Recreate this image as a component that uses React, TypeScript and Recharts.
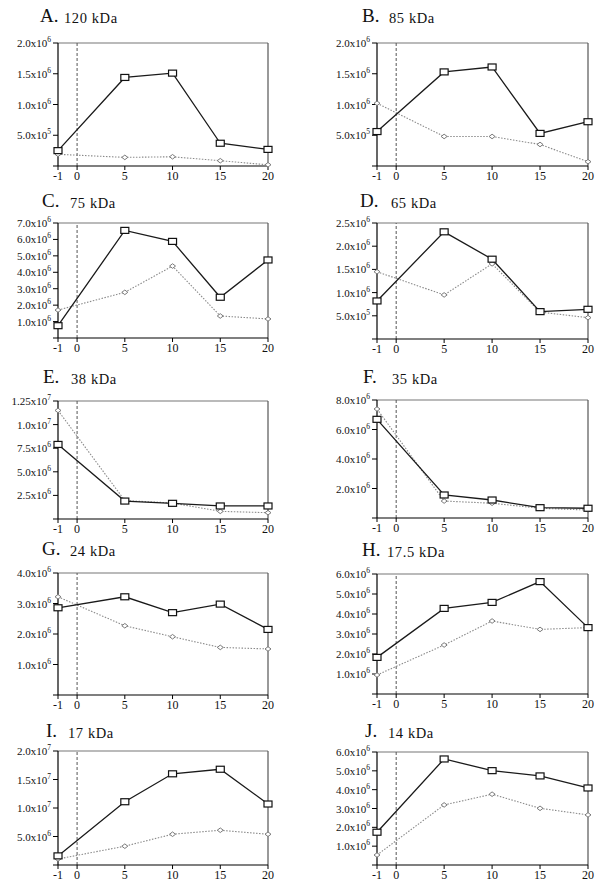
import React from 'react';
import { LineChart, Line, XAxis, YAxis, ReferenceLine } from 'recharts';

const SERIF = '"Liberation Serif", "Times New Roman", serif';

// sampling times (the -1 sample is drawn one gap left of 0, as in the source figure)
const sampleTimes = [-1, 5, 10, 15, 20];
const timeTicks = [-1, 0, 5, 10, 15, 20];
const toAxis = (t: number) => (t < 0 ? t * 2 : t);

// A. 120 kDa
const squaresA = [2.5e5, 1.44e6, 1.51e6, 3.7e5, 2.7e5];
const diamondsA = [1.9e5, 1.4e5, 1.5e5, 8.6e4, 2e4];
const yTicksA = [0, 5e5, 1e6, 1.5e6, 2e6];

// B. 85 kDa
const squaresB = [5.6e5, 1.53e6, 1.61e6, 5.3e5, 7.2e5];
const diamondsB = [1.02e6, 4.8e5, 4.8e5, 3.5e5, 7e4];
const yTicksB = [0, 5e5, 1e6, 1.5e6, 2e6];

// C. 75 kDa
const squaresC = [7.5e5, 6.55e6, 5.88e6, 2.48e6, 4.75e6];
const diamondsC = [1.7e6, 2.78e6, 4.38e6, 1.34e6, 1.16e6];
const yTicksC = [0, 1e6, 2e6, 3e6, 4e6, 5e6, 6e6, 7e6];

// D. 65 kDa
const squaresD = [8.2e5, 2.31e6, 1.72e6, 5.9e5, 6.4e5];
const diamondsD = [1.45e6, 9.5e5, 1.62e6, 5.8e5, 4.6e5];
const yTicksD = [0, 5e5, 1e6, 1.5e6, 2e6, 2.5e6];

// E. 38 kDa
const squaresE = [7.9e6, 1.9e6, 1.66e6, 1.38e6, 1.38e6];
const diamondsE = [1.15e7, 1.95e6, 1.7e6, 8.1e5, 6.7e5];
const yTicksE = [0, 2.5e6, 5e6, 7.5e6, 1e7, 1.25e7];

// F. 35 kDa
const squaresF = [6.69e6, 1.56e6, 1.22e6, 7e5, 6.6e5];
const diamondsF = [7.39e6, 1.15e6, 1e6, 6.6e5, 5.4e5];
const yTicksF = [0, 2e6, 4e6, 6e6, 8e6];

// G. 24 kDa
const squaresG = [2.86e6, 3.22e6, 2.7e6, 2.98e6, 2.15e6];
const diamondsG = [3.22e6, 2.27e6, 1.91e6, 1.56e6, 1.51e6];
const yTicksG = [0, 1e6, 2e6, 3e6, 4e6];

// H. 17.5 kDa
const squaresH = [1.83e6, 4.28e6, 4.58e6, 5.62e6, 3.32e6];
const diamondsH = [9.5e5, 2.45e6, 3.65e6, 3.23e6, 3.32e6];
const yTicksH = [0, 1e6, 2e6, 3e6, 4e6, 5e6, 6e6];

// I. 17 kDa
const squaresI = [1.6e6, 1.11e7, 1.6e7, 1.68e7, 1.07e7];
const diamondsI = [1.05e6, 3.3e6, 5.4e6, 6.1e6, 5.4e6];
const yTicksI = [0, 5e6, 1e7, 1.5e7, 2e7];

// J. 14 kDa
const squaresJ = [1.74e6, 5.63e6, 5.01e6, 4.73e6, 4.09e6];
const diamondsJ = [5.3e5, 3.19e6, 3.76e6, 3.01e6, 2.66e6];
const yTicksJ = [0, 1e6, 2e6, 3e6, 4e6, 5e6, 6e6];

const panels = [
  { letter: 'A.', name: '120 kDa', squares: squaresA, diamonds: diamondsA, yTicks: yTicksA },
  { letter: 'B.', name: '85 kDa', squares: squaresB, diamonds: diamondsB, yTicks: yTicksB },
  { letter: 'C.', name: '75 kDa', squares: squaresC, diamonds: diamondsC, yTicks: yTicksC },
  { letter: 'D.', name: '65 kDa', squares: squaresD, diamonds: diamondsD, yTicks: yTicksD },
  { letter: 'E.', name: '38 kDa', squares: squaresE, diamonds: diamondsE, yTicks: yTicksE },
  { letter: 'F.', name: '35 kDa', squares: squaresF, diamonds: diamondsF, yTicks: yTicksF },
  { letter: 'G.', name: '24 kDa', squares: squaresG, diamonds: diamondsG, yTicks: yTicksG },
  { letter: 'H.', name: '17.5 kDa', squares: squaresH, diamonds: diamondsH, yTicks: yTicksH },
  { letter: 'I.', name: '17 kDa', squares: squaresI, diamonds: diamondsI, yTicks: yTicksI },
  { letter: 'J.', name: '14 kDa', squares: squaresJ, diamonds: diamondsJ, yTicks: yTicksJ },
];

// plot boxes on the page
const boxes = [
  { col: 0, top: 43, bottom: 166, titleY: 22, letterX: 40, nameX: 64 },
  { col: 1, top: 43, bottom: 166, titleY: 22, letterX: 362, nameX: 389 },
  { col: 0, top: 223, bottom: 338, titleY: 207, letterX: 42, nameX: 70 },
  { col: 1, top: 223, bottom: 339, titleY: 207, letterX: 360, nameX: 391 },
  { col: 0, top: 401, bottom: 519, titleY: 383, letterX: 43, nameX: 71 },
  { col: 1, top: 400, bottom: 518, titleY: 383, letterX: 363, nameX: 392 },
  { col: 0, top: 573, bottom: 695, titleY: 555, letterX: 42, nameX: 70 },
  { col: 1, top: 574, bottom: 694, titleY: 556, letterX: 362, nameX: 387 },
  { col: 0, top: 751, bottom: 865, titleY: 737, letterX: 46, nameX: 68 },
  { col: 1, top: 752, bottom: 865, titleY: 737, letterX: 365, nameX: 388 },
];

const PLOT_X = [
  [58, 268],
  [377, 588],
];

function SciTick(props: any) {
  const { x, y, payload } = props;
  const v = payload.value;
  if (!v) return <g />;
  const exp = Math.floor(Math.log10(v) + 1e-9);
  const m = v / 10 ** exp;
  const mant = Math.abs(m * 10 - Math.round(m * 10)) < 1e-6 ? m.toFixed(1) : m.toFixed(2);
  return (
    <text x={x} y={y} dy={4} textAnchor="end" fontSize={11} fontFamily={SERIF} fill="#111">
      {mant}x10
      <tspan dy={-5} fontSize={7.5}>
        {exp}
      </tspan>
    </text>
  );
}

const SquareDot = (props: any) => {
  const { cx, cy, index } = props;
  if (cx == null || cy == null) return <g key={index} />;
  return <rect key={index} x={cx - 4} y={cy - 3} width={8} height={6} fill="#fff" stroke="#111" strokeWidth={1.2} />;
};

const DiamondDot = (props: any) => {
  const { cx, cy, index } = props;
  if (cx == null || cy == null) return <g key={index} />;
  return (
    <path
      key={index}
      d={`M${cx},${cy - 2.3}L${cx + 3},${cy}L${cx},${cy + 2.3}L${cx - 3},${cy}Z`}
      fill="#fff"
      stroke="#7a7a7a"
      strokeWidth={1}
    />
  );
};

const axisTicks = timeTicks.map(toAxis);

function Panel({ p, box }: { p: (typeof panels)[number]; box: (typeof boxes)[number] }) {
  const [plotLeft, plotRight] = PLOT_X[box.col];
  const width = 58 + (plotRight - plotLeft) + 14;
  const height = 8 + (box.bottom - box.top) + 24;
  const rows = sampleTimes.map((t, i) => ({ x: toAxis(t), sq: p.squares[i], dm: p.diamonds[i] }));
  const yMax = p.yTicks[p.yTicks.length - 1];

  return (
    <div style={{ position: 'absolute', left: plotLeft - 58, top: box.top - 8 }}>
      <LineChart width={width} height={height} data={rows} margin={{ top: 8, right: 14, bottom: 2, left: 8 }}>
        <XAxis
          type="number"
          dataKey="x"
          domain={[-2, 20]}
          ticks={axisTicks}
          interval={0}
          tickFormatter={(v) => String(timeTicks[axisTicks.indexOf(v)])}
          height={22}
          tickSize={4}
          tickMargin={1}
          axisLine={{ stroke: '#000', strokeWidth: 1.2 }}
          tickLine={{ stroke: '#000' }}
          tick={{ fontSize: 12, fill: '#111', fontFamily: SERIF }}
        />
        <YAxis
          type="number"
          domain={[0, yMax]}
          ticks={p.yTicks}
          interval={0}
          width={50}
          tickSize={5}
          tickMargin={2}
          axisLine={{ stroke: '#000', strokeWidth: 1.2 }}
          tickLine={{ stroke: '#000' }}
          tick={(props: any) => <SciTick {...props} />}
        />
        <ReferenceLine y={yMax} stroke="#777" strokeWidth={1.2} />
        <ReferenceLine x={20} stroke="#555" strokeWidth={1.2} />
        <ReferenceLine x={0} stroke="#555" strokeWidth={1} strokeDasharray="3 2" />
        <Line
          dataKey="dm"
          stroke="#8a8a8a"
          strokeWidth={1.1}
          strokeDasharray="1.5 1.5"
          dot={DiamondDot}
          activeDot={false}
          isAnimationActive={false}
        />
        <Line
          dataKey="sq"
          stroke="#1a1a1a"
          strokeWidth={1.3}
          dot={SquareDot}
          activeDot={false}
          isAnimationActive={false}
        />
      </LineChart>
    </div>
  );
}

export default function App() {
  return (
    <div style={{ position: 'absolute', left: 0, top: 0, width: 609, height: 896, background: '#fff', overflow: 'hidden' }}>
      <svg width={609} height={896} style={{ position: 'absolute', left: 0, top: 0 }}>
        {panels.map((p, i) => (
          <g key={p.letter} fontFamily={SERIF} fill="#111">
            <text x={boxes[i].letterX} y={boxes[i].titleY} fontSize={19}>
              {p.letter}
            </text>
            <text x={boxes[i].nameX} y={boxes[i].titleY + 1} fontSize={14.5} letterSpacing={0.6}>
              {p.name}
            </text>
          </g>
        ))}
      </svg>
      {panels.map((p, i) => (
        <Panel key={p.letter} p={p} box={boxes[i]} />
      ))}
    </div>
  );
}
